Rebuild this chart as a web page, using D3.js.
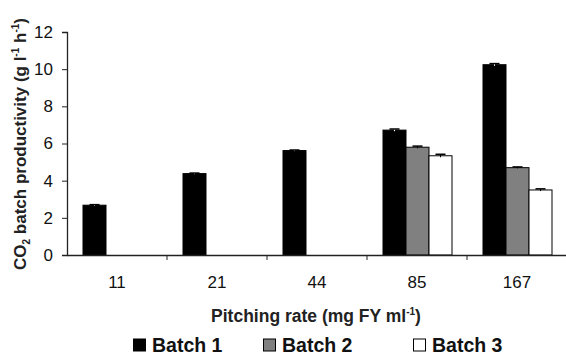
<!DOCTYPE html>
<html>
<head>
<meta charset="utf-8">
<script src="https://cdn.jsdelivr.net/npm/d3@7"></script>
<style>
	body { margin: 0; background: #fff; }
	svg { display: block; font-family: "Liberation Sans", Arial, sans-serif; }
</style>
</head>
<body>
<div id="chart"></div>
<script>
const rates = ["11", "21", "44", "85", "167"];
const batches = ["Batch 1", "Batch 2", "Batch 3"];
const batch1 = [2.68, 4.38, 5.62, 6.72, 10.24];
const batch2 = [0, 0, 0, 5.8, 4.7];
const batch3 = [0, 0, 0, 5.34, 3.5];
const errors1 = [0.03, 0.03, 0.03, 0.06, 0.06];
const errors2 = [0, 0, 0, 0.06, 0.04];
const errors3 = [0, 0, 0, 0.08, 0.06];
const yTicks = [0, 2, 4, 6, 8, 10, 12];
const colors = ["#000000", "#808080", "#ffffff"];

const width = 566, height = 357;
const mLeft = 67, mRight = 567, mTop = 32, mBottom = 255;

const svg = d3.select("#chart")
			.append("svg")
			.attr("width", width)
			.attr("height", height);

const rows = [];
[batch1, batch2, batch3].forEach((vals, b) => {
	vals.forEach((v, i) => rows.push({ rate: rates[i], batch: batches[b], value: v, err: [errors1, errors2, errors3][b][i], b }));
});

const x = d3.scaleBand()
			.domain(rates)
			.range([mLeft, mRight]);
const xInner = d3.scaleBand()
			.domain(batches)
			.range([16, 85]);
const y = d3.scaleLinear()
			.domain([0, 12])
			.range([mBottom, mTop]);

// y axis
const yAxis = svg.append("g")
	.attr("transform", `translate(${mLeft},0)`)
	.call(d3.axisLeft(y).tickValues(yTicks).tickSize(5).tickPadding(9));
yAxis.select(".domain").attr("stroke", "#222").attr("stroke-width", 1.3);
yAxis.selectAll(".tick line").attr("stroke", "#222");
yAxis.selectAll("text").attr("font-size", 17).attr("fill", "#111").attr("font-family", "Liberation Sans, Arial, sans-serif");

// bars
svg.selectAll("rect.bar")
	.data(rows.filter(d => d.value > 0))
	.enter()
	.append("rect")
	.attr("class", "bar")
	.attr("x", d => x(d.rate) + xInner(d.batch))
	.attr("y", d => y(d.value))
	.attr("width", xInner.bandwidth())
	.attr("height", d => mBottom - y(d.value))
	.attr("fill", d => colors[d.b])
	.attr("stroke", "#000")
	.attr("stroke-width", 1);

// error bars
const eb = svg.selectAll("g.err")
	.data(rows.filter(d => d.value > 0))
	.enter()
	.append("g")
	.attr("class", "err");
eb.append("line")
	.attr("x1", d => x(d.rate) + xInner(d.batch) + xInner.bandwidth() / 2)
	.attr("x2", d => x(d.rate) + xInner(d.batch) + xInner.bandwidth() / 2)
	.attr("y1", d => y(d.value + d.err))
	.attr("y2", d => y(d.value - d.err))
	.attr("stroke", d => d.b === 0 ? "#fff" : "#000");
eb.append("line")
	.attr("x1", d => x(d.rate) + xInner(d.batch) + xInner.bandwidth() / 2 - 5)
	.attr("x2", d => x(d.rate) + xInner(d.batch) + xInner.bandwidth() / 2 + 5)
	.attr("y1", d => y(d.value + d.err))
	.attr("y2", d => y(d.value + d.err))
	.attr("stroke", "#000")
	.attr("stroke-width", 1.5);

// x axis: ticks between categories
const xAxis = svg.append("g")
	.attr("transform", `translate(0,${mBottom})`)
	.call(d3.axisBottom(x).tickSize(0).tickPadding(21));
xAxis.select(".domain").attr("stroke", "#222").attr("stroke-width", 1.3);
xAxis.selectAll("text").attr("font-size", 17).attr("fill", "#111").attr("font-family", "Liberation Sans, Arial, sans-serif");
xAxis.selectAll("line.sep")
	.data(rates.slice(1))
	.enter()
	.append("line")
	.attr("class", "sep")
	.attr("x1", d => x(d))
	.attr("x2", d => x(d))
	.attr("y1", 0)
	.attr("y2", 5)
	.attr("stroke", "#222");

// axis titles
const xt = svg.append("text")
	.attr("x", 316)
	.attr("y", 322)
	.attr("text-anchor", "middle")
	.attr("font-size", 17.5)
	.attr("font-weight", "bold")
	.attr("fill", "#222");
xt.append("tspan").text("Pitching rate (mg FY ml");
xt.append("tspan").attr("font-size", 10).attr("dy", -7).text("-1");
xt.append("tspan").attr("dy", 7).text(")");

const yt = svg.append("text")
	.attr("transform", "translate(26,144) rotate(-90)")
	.attr("text-anchor", "middle")
	.attr("font-size", 17)
	.attr("font-weight", "bold")
	.attr("fill", "#222");
yt.append("tspan").text("CO");
yt.append("tspan").attr("font-size", 10).attr("dy", 4).text("2");
yt.append("tspan").attr("dy", -4).text(" batch productivity (g l");
yt.append("tspan").attr("font-size", 10).attr("dy", -7).text("-1");
yt.append("tspan").attr("dy", 7).text(" h");
yt.append("tspan").attr("font-size", 10).attr("dy", -7).text("-1");
yt.append("tspan").attr("dy", 7).text(")");

// legend
const legendX = [133, 263, 413];
const leg = svg.selectAll("g.legend")
	.data(batches)
	.enter()
	.append("g")
	.attr("class", "legend")
	.attr("transform", (d, i) => `translate(${legendX[i]},352)`);
leg.append("rect")
	.attr("x", 0.5)
	.attr("y", -13)
	.attr("width", 12)
	.attr("height", 12)
	.attr("fill", (d, i) => colors[i])
	.attr("stroke", "#000");
leg.append("text")
	.attr("x", 19)
	.attr("y", 0)
	.attr("font-size", 19.5)
	.attr("font-weight", "bold")
	.attr("fill", "#111")
	.text(d => d);
</script>
</body>
</html>
